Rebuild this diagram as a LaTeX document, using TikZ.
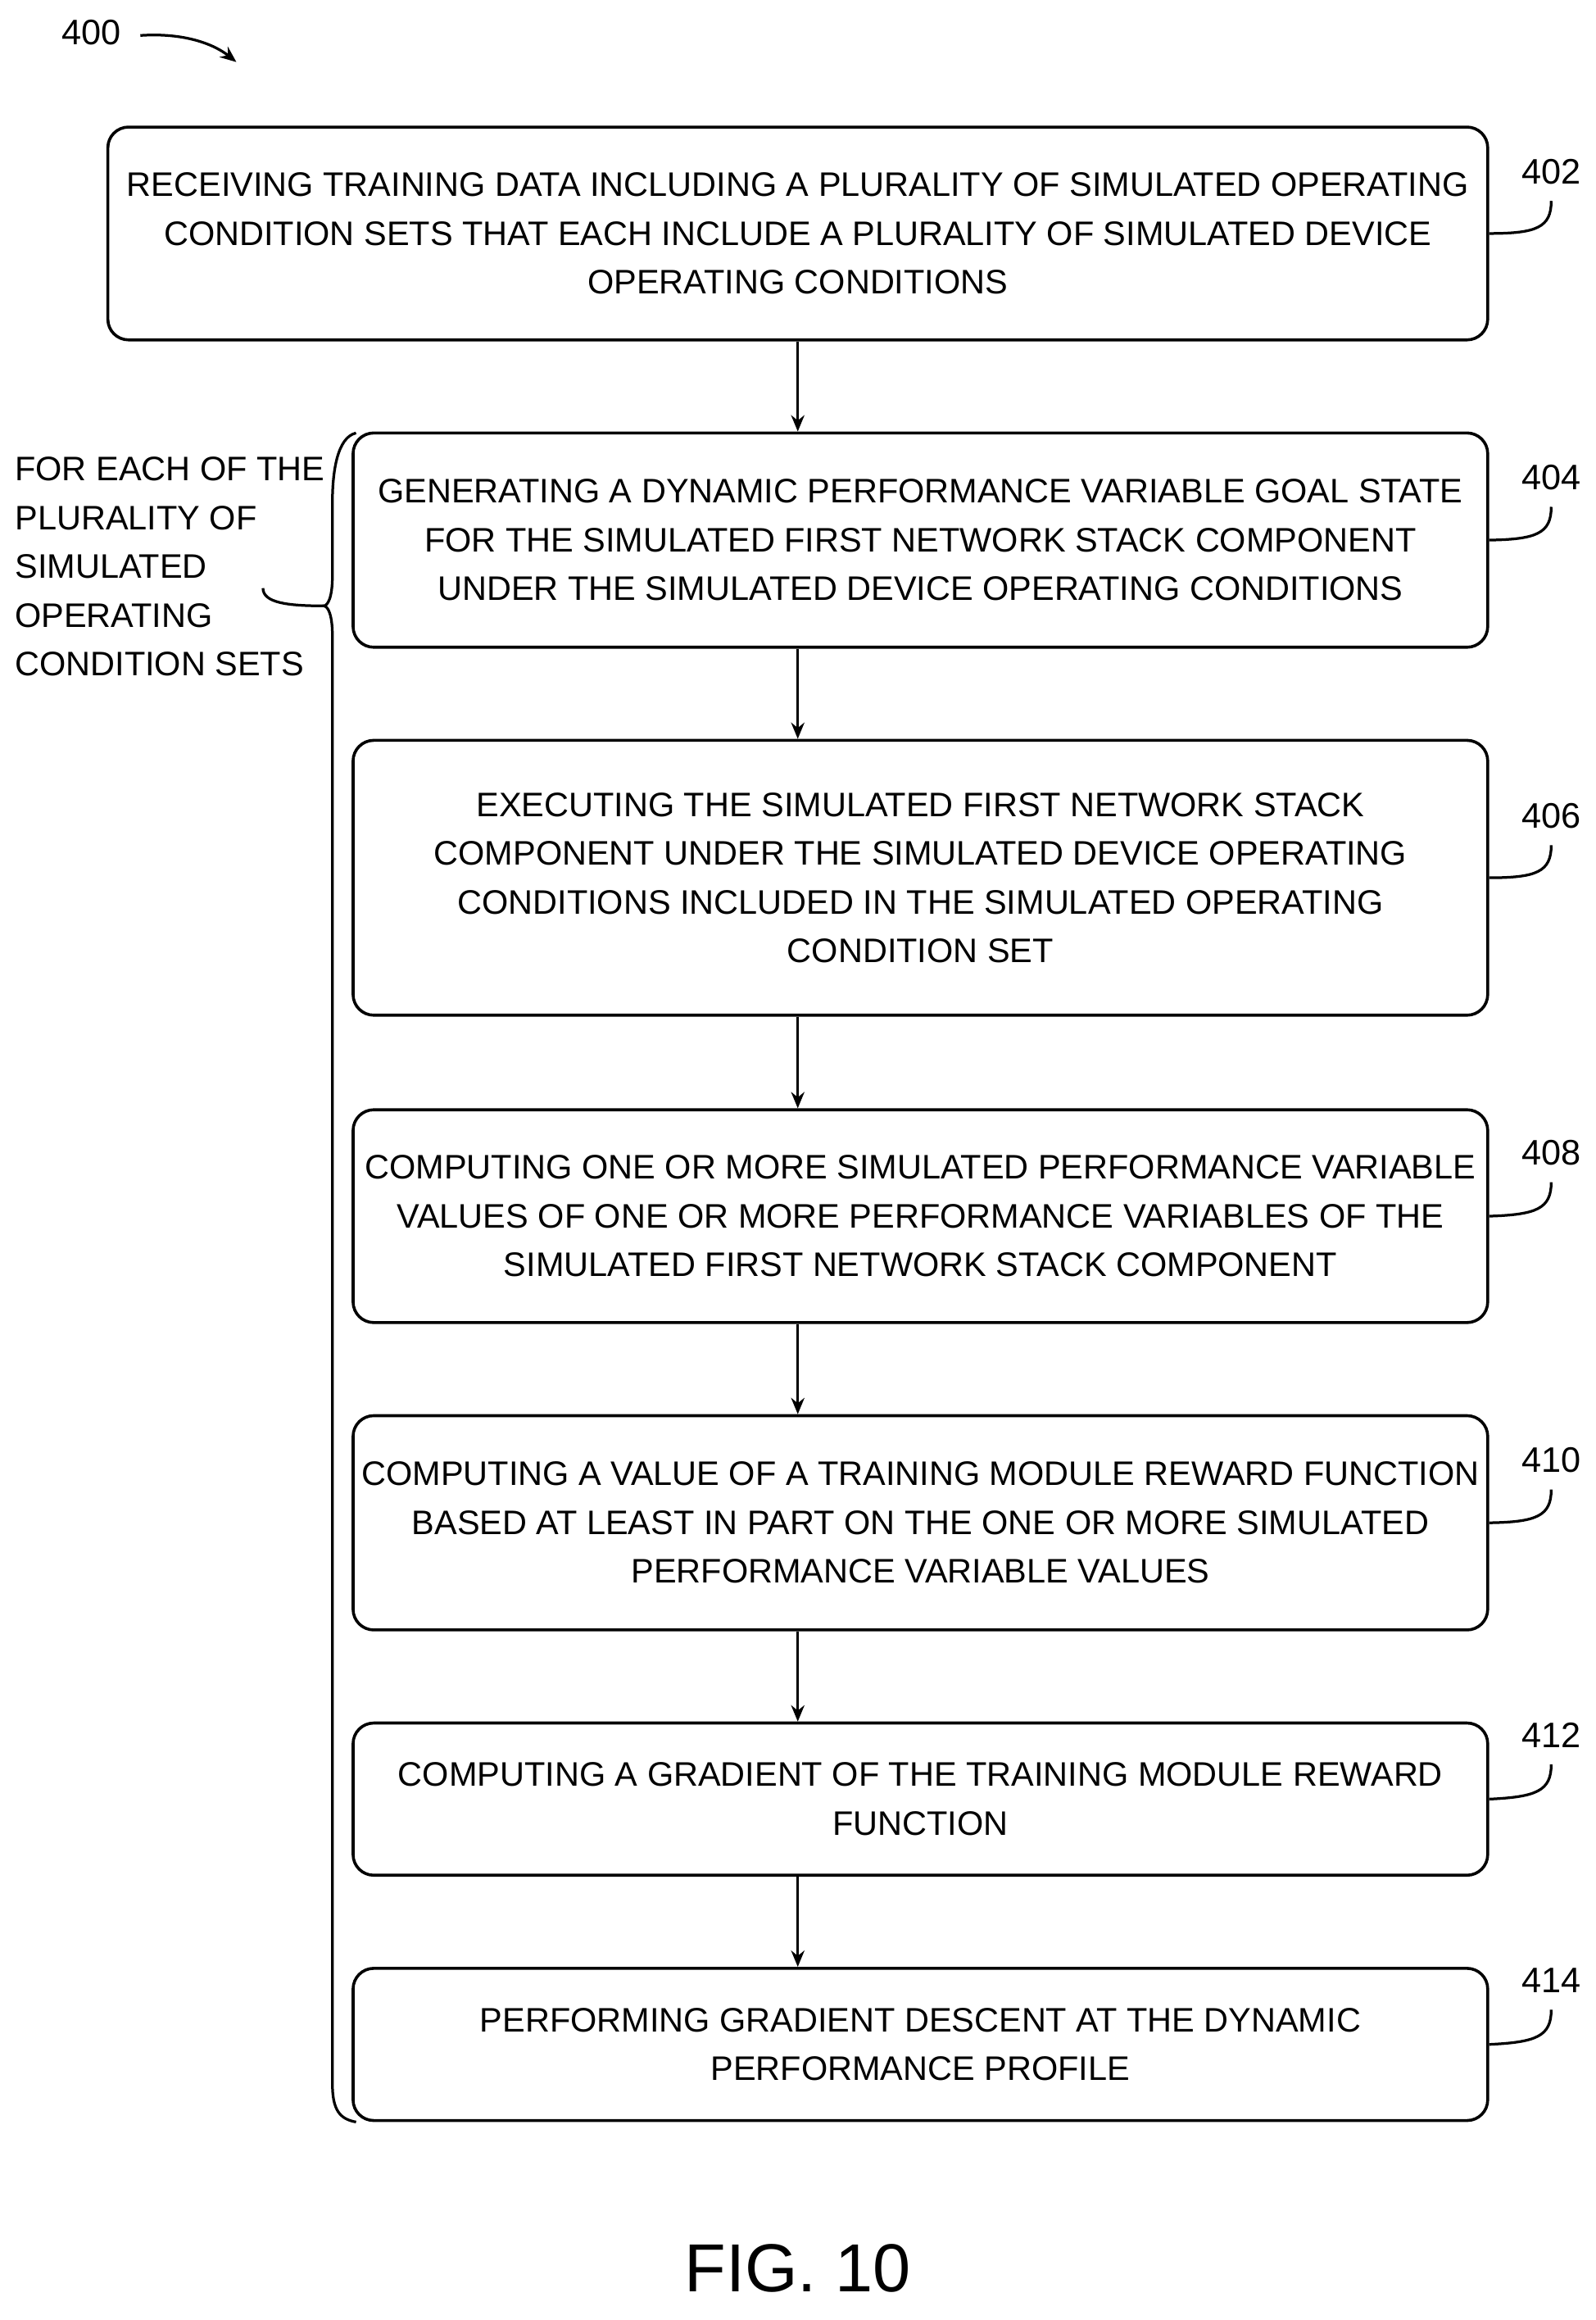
\documentclass[tikz,border=0pt]{standalone}
\usepackage{fontspec}
\setmainfont{Liberation Sans}
\usetikzlibrary{positioning,arrows.meta}

\tikzset{
  stepbox/.style={draw, line width=2pt, rounded corners=14pt, align=center, inner sep=0pt,
    font=\fontsize{23}{33}\selectfont},
  flow/.style={line width=1.8pt, -{Stealth[length=11pt,width=9pt]}},
  refnum/.style={font=\fontsize{24}{26}\selectfont},
  lead/.style={line width=1.8pt}
}

\begin{document}
\begin{tikzpicture}[x=1pt, y=-1pt]
  \useasboundingbox (0,0) rectangle (1080,1570);

  % steps of the method
  \node[stepbox, minimum width=934pt, minimum height=144pt] (s402) at (540,158)
    {RECEIVING TRAINING DATA INCLUDING A PLURALITY OF SIMULATED OPERATING\\CONDITION SETS THAT EACH INCLUDE A PLURALITY OF SIMULATED DEVICE\\OPERATING CONDITIONS};
  \node[stepbox, minimum width=768pt, minimum height=145pt] (s404) at (623,365.5)
    {GENERATING A DYNAMIC PERFORMANCE VARIABLE GOAL STATE\\FOR THE SIMULATED FIRST NETWORK STACK COMPONENT\\UNDER THE SIMULATED DEVICE OPERATING CONDITIONS};
  \node[stepbox, minimum width=768pt, minimum height=186pt] (s406) at (623,594)
    {EXECUTING THE SIMULATED FIRST NETWORK STACK\\COMPONENT UNDER THE SIMULATED DEVICE OPERATING\\CONDITIONS INCLUDED IN THE SIMULATED OPERATING\\CONDITION SET};
  \node[stepbox, minimum width=768pt, minimum height=144pt] (s408) at (623,823)
    {COMPUTING ONE OR MORE SIMULATED PERFORMANCE VARIABLE\\VALUES OF ONE OR MORE PERFORMANCE VARIABLES OF THE\\SIMULATED FIRST NETWORK STACK COMPONENT};
  \node[stepbox, minimum width=768pt, minimum height=145pt] (s410) at (623,1030.5)
    {COMPUTING A VALUE OF A TRAINING MODULE REWARD FUNCTION\\BASED AT LEAST IN PART ON THE ONE OR MORE SIMULATED\\PERFORMANCE VARIABLE VALUES};
  \node[stepbox, minimum width=768pt, minimum height=103pt] (s412) at (623,1217.5)
    {COMPUTING A GRADIENT OF THE TRAINING MODULE REWARD\\FUNCTION};
  \node[stepbox, minimum width=768pt, minimum height=103pt] (s414) at (623,1383.5)
    {PERFORMING GRADIENT DESCENT AT THE DYNAMIC\\PERFORMANCE PROFILE};

  % connectors
  \draw[flow] (s402.south -| 540,0) -- (s404.north -| 540,0);
  \foreach \a/\b in {s404/s406, s406/s408, s408/s410, s410/s412, s412/s414}
    \draw[flow] (\a.south -| 540,0) -- (\b.north -| 540,0);

  % reference numerals
  \foreach \n/\y in {402/116, 404/323, 406/552, 408/780, 410/988, 412/1174, 414/1340} {
    \node[refnum] (r\n) at (1050,\y) {\n};
    \draw[lead] (s\n.east) .. controls (1040,\y+42) and (1050,\y+38) .. (1050,\y+20);
  }

  % loop brace
  \coordinate (bt) at (241,293);
  \coordinate (bb) at (241,1436);
  \coordinate (bm) at (219,410);
  \draw[lead] (bt) .. controls (228,296) and (225,320) .. (225,340)
    -- (225,390) .. controls (225,404) and (222,410) .. (bm)
    .. controls (222,410) and (225,416) .. (225,430)
    -- (225,1410) .. controls (225,1428) and (230,1434) .. (bb);
  \node[align=left, anchor=north west, inner sep=0pt, font=\fontsize{23}{33}\selectfont]
    (loop) at (10,309) {FOR EACH OF THE\\PLURALITY OF\\SIMULATED\\OPERATING\\CONDITION SETS};
  \draw[lead] (178,398) .. controls (178,408) and (195,410) .. (bm);

  % figure label
  \node[refnum] (n400) at (62,22) {400};
  \coordinate (a400) at (160,42);
  \draw[flow] (95,24) .. controls (125,22) and (145,30) .. (a400);
  \node[font=\fontsize{46}{50}\selectfont] (fig) at (540,1535) {FIG. 10};
\end{tikzpicture}
\end{document}
